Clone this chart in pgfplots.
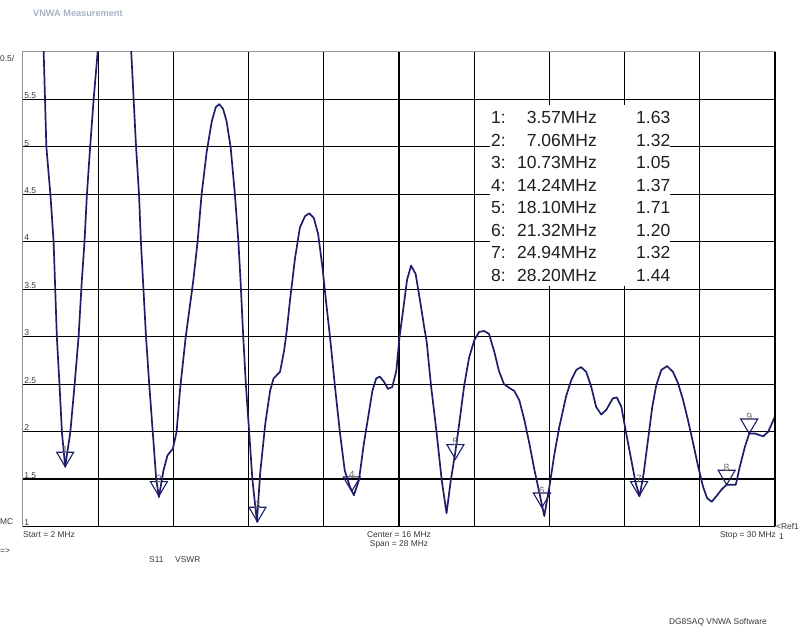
\documentclass[border=0pt]{standalone}
\usepackage{fontspec}
\setmainfont{Liberation Sans}
\usepackage{pgfplots}
\pgfplotsset{compat=1.18}
\definecolor{trace}{RGB}{30,30,104}
\definecolor{frame}{RGB}{150,150,150}
\definecolor{hdr}{RGB}{168,178,196}
\definecolor{lbl}{RGB}{55,55,55}

% marker: open triangle pointing down, tip on the data point
\pgfdeclareplotmark{vtri}{%
  \pgfpathmoveto{\pgfqpoint{0pt}{0pt}}%
  \pgfpathlineto{\pgfqpoint{-8.5pt}{14.5pt}}%
  \pgfpathlineto{\pgfqpoint{8.5pt}{14.5pt}}%
  \pgfpathclose
  \pgfusepathqstroke}

\begin{document}
\begin{tikzpicture}[x=1pt,y=1pt]
\path[use as bounding box] (0,0) rectangle (800,634);

\begin{axis}[
  at={(23pt,107.5pt)}, anchor=south west,
  width=752pt, height=474.5pt, scale only axis,
  xmin=2, xmax=30, ymin=1, ymax=6,
  xtick={4.8,7.6,10.4,13.2,16,18.8,21.6,24.4,27.2},
  ytick={1.5,2,2.5,3,3.5,4,4.5,5,5.5},
  xticklabels={}, yticklabels={},
  tick style={draw=none},
  grid=major,
  grid style={black, line width=1.2pt},
  axis line style={draw=frame, line width=1pt},
  clip=true,
]
% S11 VSWR trace
\addplot[trace, line width=1.7pt, line join=round] coordinates {
(2.00,9.5) (2.40,7.5) (2.77,6.0) (2.87,5.0) (3.02,4.5) (3.14,4.0) (3.26,3.0)
(3.36,2.49) (3.45,1.99) (3.57,1.63) (3.76,1.99) (3.92,2.49) (4.07,3.0)
(4.19,3.59) (4.29,4.0) (4.38,4.5) (4.50,5.0) (4.63,5.5) (4.78,6.0)
(5.10,7.0) (5.40,7.3) (5.70,7.0) (6.03,6.0) (6.21,5.0) (6.32,4.5) (6.39,4.0)
(6.58,3.0) (6.70,2.5) (6.83,2.0) (6.96,1.5) (7.06,1.31) (7.23,1.59)
(7.38,1.75) (7.58,1.82) (7.72,2.0) (7.85,2.45) (8.06,3.0) (8.34,3.59)
(8.50,4.0) (8.65,4.5) (8.84,4.95) (9.03,5.27) (9.18,5.42) (9.31,5.45)
(9.45,5.40) (9.58,5.27) (9.73,5.0) (9.89,4.5) (10.02,4.0) (10.10,3.59)
(10.20,3.0) (10.30,2.49) (10.42,2.0) (10.54,1.5) (10.71,1.05)
(10.83,1.56) (11.02,2.08) (11.20,2.43) (11.33,2.56) (11.57,2.63)
(11.72,2.85) (11.82,3.06) (11.94,3.38) (12.13,3.83) (12.31,4.15)
(12.50,4.27) (12.66,4.30) (12.83,4.25) (12.99,4.08) (13.15,3.73)
(13.28,3.38) (13.43,3.0) (13.61,2.49) (13.80,1.99) (13.98,1.59)
(14.17,1.42) (14.32,1.33) (14.51,1.49) (14.69,1.87) (14.85,2.15)
(15.01,2.43) (15.15,2.56) (15.28,2.58) (15.43,2.53) (15.59,2.45)
(15.75,2.47) (15.90,2.64) (16.02,3.0) (16.14,3.25) (16.30,3.60)
(16.45,3.75) (16.62,3.66) (16.80,3.35) (16.95,3.08) (17.03,2.95)
(17.19,2.49) (17.40,1.99) (17.59,1.49) (17.77,1.14) (17.93,1.49)
(18.09,1.77) (18.24,2.08) (18.43,2.49) (18.61,2.78) (18.80,2.96)
(18.98,3.05) (19.17,3.06) (19.35,3.03) (19.54,2.85) (19.72,2.64)
(19.91,2.50) (20.16,2.45) (20.29,2.43) (20.48,2.33) (20.67,2.12)
(20.85,1.88) (21.04,1.60) (21.23,1.35) (21.41,1.11) (21.60,1.42)
(21.79,1.77) (21.97,2.05) (22.22,2.37) (22.41,2.54) (22.60,2.65)
(22.78,2.68) (22.97,2.63) (23.16,2.47) (23.34,2.26) (23.53,2.18)
(23.72,2.23) (23.96,2.35) (24.11,2.36) (24.28,2.26) (24.46,1.98)
(24.65,1.70) (24.81,1.46) (24.96,1.32) (25.11,1.56) (25.27,1.91)
(25.43,2.26) (25.58,2.49) (25.77,2.65) (25.98,2.69) (26.20,2.63)
(26.39,2.51) (26.58,2.33) (26.76,2.12) (26.95,1.88) (27.14,1.63)
(27.32,1.42) (27.47,1.30) (27.64,1.26) (27.82,1.32) (28.01,1.39)
(28.20,1.44) (28.38,1.44) (28.54,1.44) (28.69,1.63) (28.88,1.84)
(29.04,1.98) (29.25,1.98) (29.56,1.95) (29.75,2.00) (30.00,2.16)
};
% markers 1..9
\addplot[only marks, mark=vtri, trace, line width=1.1pt,
  point meta=explicit symbolic, nodes near coords,
  every node near coord/.style={anchor=south, yshift=12.5pt, inner sep=0.3pt,
    font=\fontsize{10.5}{11}\selectfont, text=black!55}]
  table[meta=lab] {
f v lab
3.57 1.63 1
7.06 1.32 2
10.73 1.05 3
14.24 1.37 4
18.10 1.71 5
21.32 1.20 6
24.94 1.32 7
28.20 1.44 8
29.04 1.98 9
};
% y labels inside the plot, on top of each line
\pgfplotsinvokeforeach{1,1.5,2,2.5,3,3.5,4,4.5,5,5.5}{
  \node[anchor=south west, inner sep=0.6pt, xshift=0.5pt, text=lbl,
    font=\fontsize{8.5}{9}\selectfont] at (axis cs:2,#1) {#1};
}
\end{axis}

% heavier bottom and right frame
\draw[black, line width=1.8pt] (23,107.5) -- (775,107.5);
\draw[black, line width=1.3pt] (775,107.5) -- (775,582);

% marker readout table
\fill[white] (490,348) rectangle (670,529);
\begin{scope}[font=\fontsize{17.5}{19}\selectfont, text=black!88]
\foreach \i/\f/\v [count=\k from 0] in {1/3.57/1.63, 2/7.06/1.32, 3/10.73/1.05,
    4/14.24/1.37, 5/18.10/1.71, 6/21.32/1.20, 7/24.94/1.32, 8/28.20/1.44}{
  \node[anchor=west, inner sep=0] at (491,516.3-22.5*\k) {\i:};
  \node[anchor=east, inner sep=0] at (597,516.3-22.5*\k) {\f MHz};
  \node[anchor=west, inner sep=0] at (636,516.3-22.5*\k) {\v};
}
\end{scope}

% surrounding annotations
\begin{scope}[font=\fontsize{8.4}{9}\selectfont, text=lbl, inner sep=0]
\node[anchor=west, font=\bfseries\fontsize{9.2}{10}\selectfont, text=hdr] at (33,620.5) {VNWA Measurement};
\node[anchor=west] at (0,575.5) {0.5/};
\node[anchor=west] at (0,112) {MC};
\node[anchor=north west] at (23,103) {Start = 2 MHz};
\node[anchor=north, align=center] at (399,103) {Center = 16 MHz\\Span = 28 MHz};
\node[anchor=north east] at (776,103) {Stop = 30 MHz};
\node[anchor=west] at (776,107) {<Ref1};
\node[anchor=west] at (779,97) {1};
\node[anchor=west] at (0,82.5) {=>};
\node[anchor=west] at (149,74.5) {S11};
\node[anchor=west] at (175,74.5) {VSWR};
\node[anchor=east] at (767,12) {DG8SAQ VNWA Software};
\end{scope}
\end{tikzpicture}
\end{document}
